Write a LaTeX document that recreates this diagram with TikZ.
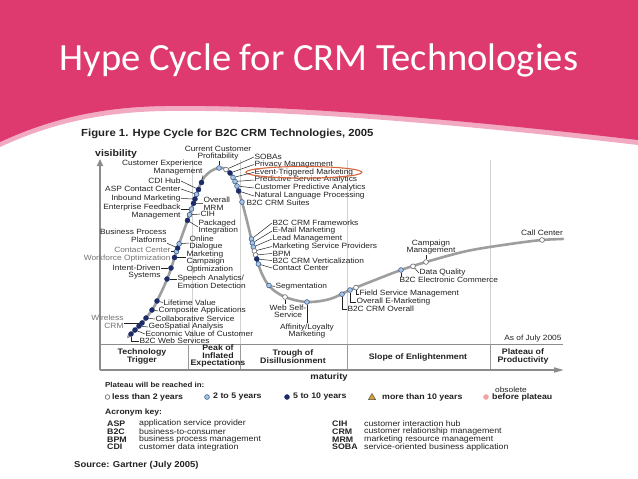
\documentclass[tikz,border=0pt]{standalone}
\usepackage{fontspec}
\setmainfont{Liberation Sans}[FakeStretch=1.1]
\newfontfamily\titlefont{Carlito}
\usetikzlibrary{arrows.meta,shapes.geometric}

\definecolor{banner}{HTML}{DE3A70}
\definecolor{bannerlt}{HTML}{F2AAC3}
\definecolor{navy}{HTML}{1C2C6B}
\definecolor{ltblue}{HTML}{A9C6E4}
\definecolor{dotedge}{HTML}{3C5C8C}
\definecolor{txt}{HTML}{222222}
\definecolor{ring}{HTML}{D8663C}
\definecolor{tri}{HTML}{D9A22E}
\definecolor{obs}{HTML}{F0A3A3}

\begin{document}
\begin{tikzpicture}[x=1pt,y=-1pt,
  lbl/.style={inner sep=0.3pt,text=txt,font=\fontsize{7.6}{7.8}\selectfont},
  gry/.style={lbl,text=black!55},
  phase/.style={inner sep=0pt,text=txt,align=center,font=\bfseries\fontsize{8}{7.2}\selectfont},
  leg/.style={inner sep=0pt,text=txt,anchor=west,font=\bfseries\fontsize{8}{9}\selectfont},
  acr/.style={inner sep=0pt,text=txt,anchor=west,font=\bfseries\fontsize{8}{9}\selectfont},
  acrtxt/.style={inner sep=0pt,text=txt,anchor=west,font=\fontsize{8}{9}\selectfont},
  leader/.style={draw=txt,line width=0.5pt},
  techdot/.style={circle,inner sep=0pt,minimum size=4.8pt,line width=0.6pt},
  navydot/.style={techdot,fill=navy,draw=navy},
  bluedot/.style={techdot,fill=ltblue,draw=dotedge},
  whitedot/.style={techdot,fill=white,draw=black!60},
  gridline/.style={draw=black!18,line width=0.5pt}]
\useasboundingbox (0,0) rectangle (638,479);
\fill[white] (0,0) rectangle (638,479);

% banner
\fill[bannerlt] (0,0) -- (0,147) .. controls (50,124) and (100,112) .. (165,111) .. controls (300,109) and (500,129) .. (638,145) -- (638,0) -- cycle;
\fill[banner] (0,0) -- (0,142) .. controls (50,119) and (100,107) .. (165,106) .. controls (300,104) and (500,124) .. (638,140) -- (638,0) -- cycle;
\node[text=white,inner sep=0pt,anchor=base,font=\titlefont\fontsize{38.5}{40}\selectfont] (title) at (319,70) {Hype Cycle for CRM Technologies};

\node[anchor=west,inner sep=0pt,text=txt,font=\bfseries\fontsize{10.3}{12}\selectfont] (fig) at (81,134) {Figure 1. Hype Cycle for B2C CRM Technologies, 2005};
\node[anchor=west,inner sep=0pt,text=txt,font=\bfseries\fontsize{9.5}{10}\selectfont] (vis) at (95,154) {visibility};

% axes and phase band
\draw[gridline] (192,160) -- (192,344);
\draw[gridline] (240,160) -- (240,344);
\draw[gridline] (347,160) -- (347,344);
\draw[gridline] (490,160) -- (490,344);
\draw[black!45,line width=0.6pt] (100,344) -- (563,344);
\draw[black!40,line width=0.6pt] (188,344) -- (188,370);
\draw[black!40,line width=0.6pt] (240,344) -- (240,370);
\draw[black!40,line width=0.6pt] (347,344) -- (347,370);
\draw[black!40,line width=0.6pt] (490,344) -- (490,370);
\coordinate (orig) at (100,370);
\coordinate (ytop) at (100,159);
\coordinate (xend) at (564,370);
\draw[black!45,line width=1.6pt,-{Triangle[width=6pt,length=7pt]}] (orig) -- (ytop);
\draw[black!45,line width=1.6pt,-{Triangle[width=5pt,length=10pt]}] (orig) -- (xend);

\node[phase] (trig) at (142,356.5) {Technology\\Trigger};
\node[phase] (peak) at (218,356) {Peak of\\Inflated\\Expectations};
\node[phase] (trough) at (293,356.5) {Trough of\\Disillusionment};
\node[phase] (slope) at (418,357) {Slope of Enlightenment};
\node[phase] (plat) at (523,356.5) {Plateau of\\Productivity};
\node[inner sep=0pt,text=txt,font=\bfseries\fontsize{8.6}{10}\selectfont] (mat) at (329,377) {maturity};

% the hype curve
\draw[black!38,line width=2.6pt,line cap=round] plot[smooth,tension=0.55] coordinates {
  (128,337) (142,323) (152,310) (157,301) (168,277) (178,247) (188,219) (197,193)
  (203,179) (211,171) (219,168) (226,169) (232,175) (237,186) (242,202) (248,225)
  (253,246) (257,260) (262,274) (270,287) (285,297) (307,302) (330,299) (350,290)
  (375,280) (401,270) (426,262) (467,251) (510,244) (542,240) (563,239)};

% technologies on the rise
\node[navydot] (bws) at (131,334) {};
\node[navydot] (evc) at (135,330) {};
\node[navydot] (geo) at (139,326) {};
\node[navydot] (wcrm) at (142,323) {};
\node[navydot] (colsv) at (146,318) {};
\node[navydot] (comp) at (152,310) {};
\node[navydot] (life) at (157,301) {};
\node[navydot] (speech) at (167,279) {};
\node[navydot] (intent) at (171,268) {};
\node[navydot] (mco) at (174.5,257.5) {};
\node[bluedot] (ccwo) at (176.5,251.5) {};
\node[navydot] (bpp) at (177.7,248) {};
\node[bluedot] (online) at (179.2,243.8) {};
\node[navydot] (pkg) at (187.5,220.4) {};
\node[bluedot] (cih) at (189.5,214.8) {};
\node[bluedot] (efm) at (191.5,209) {};
\node[navydot] (omrm) at (193.5,203.3) {};
\node[navydot] (inb) at (195,199) {};
\node[bluedot] (asp) at (196.6,194.3) {};
\node[navydot] (cdi) at (198.5,189.5) {};
\node[navydot] (cem) at (201.5,182.5) {};
\node[bluedot] (ccp) at (219,168) {};

\node[lbl,align=right,anchor=east] (cemL) at (203,167.5) {Customer Experience\\Management};
\node[lbl,anchor=east] (cdiL) at (181,181) {CDI Hub};
\node[lbl,anchor=east] (aspL) at (181,189) {ASP Contact Center};
\node[lbl,anchor=east] (inbL) at (181,198.5) {Inbound Marketing};
\node[lbl,align=right,anchor=north east] (efmL) at (181,203.5) {Enterprise Feedback\\Management};
\node[lbl,align=left,anchor=west] (omrmL) at (203,203.5) {Overall\\MRM};
\node[lbl,anchor=west] (cihL) at (200,214) {CIH};
\node[lbl,align=left,anchor=west] (pkgL) at (198,227) {Packaged\\Integration};
\node[lbl,align=right,anchor=east] (bppL) at (167,236) {Business Process\\Platforms};
\node[lbl,align=left,anchor=west] (onlineL) at (189,243) {Online\\Dialogue};
\node[gry,align=right,anchor=east] (ccwoL) at (171,254.5) {Contact Center\\Workforce Optimization};
\node[lbl,align=left,anchor=north west,font=\fontsize{7.6}{7.1}\selectfont] (mcoL) at (186,250.8) {Marketing\\Campaign\\Optimization};
\node[lbl,align=right,anchor=north east] (intentL) at (161,264) {Intent-Driven\\Systems};
\node[lbl,align=left,anchor=north west] (speechL) at (177,274.6) {Speech Analytics/\\Emotion Detection};
\node[lbl,anchor=west] (lifeL) at (163,302.5) {Lifetime Value};
\node[lbl,anchor=west] (compL) at (158,311) {Composite Applications};
\node[lbl,anchor=west] (colsvL) at (155,319) {Collaborative Service};
\node[gry,align=right,anchor=east] (wcrmL) at (124,322) {Wireless\\CRM};
\node[lbl,anchor=west] (geoL) at (148,327) {GeoSpatial Analysis};
\node[lbl,anchor=west] (evcL) at (145,334) {Economic Value of Customer};
\node[lbl,anchor=west] (bwsL) at (139,341) {B2C Web Services};
\node[lbl,align=center,anchor=south] (ccpL) at (218,161) {Current Customer\\Profitability};

\draw[leader] (cemL.south east) -- (cem);
\draw[leader] (cdiL.east) -- (cdi);
\draw[leader] (aspL.east) -- (asp);
\draw[leader] (inbL.east) -- (inb);
\draw[leader] (efmL.east |- efm) -- (efm);
\draw[leader] (omrm) -- (omrmL.west);
\draw[leader] (cih) -- (cihL.west);
\draw[leader] (pkg) -- (pkgL.west);
\draw[leader] (bppL.south east) -- (bpp);
\draw[leader] (online) -- (onlineL.west);
\draw[leader] (ccwoL.east |- ccwo) -- (ccwo);
\draw[leader] (mco) -- (mco -| mcoL.west);
\draw[leader] (intentL.east |- intent) -- (intent);
\draw[leader] (speech) -- (speech -| speechL.west);
\draw[leader] (life) -- (lifeL.west);
\draw[leader] (comp) -- (compL.west);
\draw[leader] (colsv) -- (colsvL.west);
\draw[leader] (wcrm -| wcrmL.east) -- (wcrm);
\draw[leader] (geo) -- (geoL.west);
\draw[leader] (evc) -- (evcL.west);
\draw[leader] (bws) |- (bwsL.west);
\draw[leader] (ccp) -- (ccp |- ccpL.south);

% sliding into the trough
\node[whitedot] (soba) at (226,169.5) {};
\node[navydot] (priv) at (230,173) {};
\node[bluedot] (etm) at (233,177.5) {};
\node[bluedot] (psa) at (235,181.5) {};
\node[bluedot] (cpa) at (237,186) {};
\node[navydot] (nlp) at (238.6,191) {};
\node[bluedot] (suite) at (242,202) {};
\node[bluedot] (frame) at (251.5,239) {};
\node[bluedot] (email) at (252.4,243) {};
\node[bluedot] (leadm) at (253.3,247) {};
\node[whitedot] (msp) at (254.4,251) {};
\node[whitedot] (bpm) at (255.6,255) {};
\node[navydot] (vert) at (256.8,259) {};
\node[bluedot] (ccen) at (258.4,264) {};
\node[bluedot] (seg) at (269,285.5) {};
\node[whitedot] (wss) at (285,297) {};
\node[bluedot] (aff) at (307,302) {};

\node[lbl,anchor=west] (sobaL) at (254,157) {SOBAs};
\node[lbl,anchor=west] (privL) at (254,164.5) {Privacy Management};
\node[lbl,anchor=west] (etmL) at (254,172.3) {Event-Triggered Marketing};
\node[lbl,anchor=west] (psaL) at (254,180) {Predictive Service Analytics};
\node[lbl,anchor=west] (cpaL) at (254,188) {Customer Predictive Analytics};
\node[lbl,anchor=west] (nlpL) at (254,196) {Natural Language Processing};
\node[lbl,anchor=west] (suiteL) at (246,202.5) {B2C CRM Suites};
\node[lbl,anchor=west] (frameL) at (272,223) {B2C CRM Frameworks};
\node[lbl,anchor=west] (emailL) at (272,231) {E-Mail Marketing};
\node[lbl,anchor=west] (leadmL) at (272,239) {Lead Management};
\node[lbl,anchor=west] (mspL) at (272,246.5) {Marketing Service Providers};
\node[lbl,anchor=west] (bpmL) at (272,253.5) {BPM};
\node[lbl,anchor=west] (vertL) at (272,260.5) {B2C CRM Verticalization};
\node[lbl,anchor=west] (ccenL) at (272,268) {Contact Center};
\node[lbl,anchor=west] (segL) at (275,286.5) {Segmentation};
\node[lbl,align=center,anchor=north] (wssL) at (288,304) {Web Self-\\Service};
\node[lbl,align=center,anchor=north] (affL) at (307,323) {Affinity/Loyalty\\Marketing};

\draw[ring,line width=1.1pt] (etmL.center) ellipse [x radius=58, y radius=5.8];

\draw[leader] (soba) -- (sobaL.west);
\draw[leader] (priv) -- (privL.west);
\draw[leader] (etm) -- (etmL.west);
\draw[leader] (psa) -- (psaL.west);
\draw[leader] (cpa) -- (cpaL.west);
\draw[leader] (nlp) -- (nlpL.west);
\draw[leader] (frame) -- (frameL.west);
\draw[leader] (email) -- (emailL.west);
\draw[leader] (leadm) -- (leadmL.west);
\draw[leader] (msp) -- (mspL.west);
\draw[leader] (bpm) -- (bpmL.west);
\draw[leader] (vert) -- (vertL.west);
\draw[leader] (ccen) -- (ccenL.west);
\draw[leader] (seg) -- (segL.west);
\draw[leader] (wss) -- (wss |- wssL.north);
\draw[leader] (aff) -- (affL.north);

% climbing the slope
\node[bluedot] (cov) at (342,294.2) {};
\node[bluedot] (oem) at (350,290) {};
\node[whitedot] (fsm) at (356,287.6) {};
\node[bluedot] (bec) at (401,270) {};
\node[whitedot] (dq) at (413,266.3) {};
\node[whitedot] (campm) at (426,262) {};
\node[whitedot] (call) at (542,240) {};

\node[lbl,anchor=west] (covL) at (347,309) {B2C CRM Overall};
\node[lbl,anchor=west] (oemL) at (356,302) {Overall E-Marketing};
\node[lbl,anchor=west] (fsmL) at (359,294) {Field Service Management};
\node[lbl,anchor=north west] (becL) at (399,276.5) {B2C Electronic Commerce};
\node[lbl,anchor=west] (dqL) at (419,273) {Data Quality};
\node[lbl,align=center,anchor=south] (campmL) at (431,255) {Campaign\\Management};
\node[lbl,anchor=south] (callL) at (542,236.5) {Call Center};
\node[lbl,anchor=east] (asof) at (562,339) {As of July 2005};

\draw[leader] (cov) |- (covL.west);
\draw[leader] (oem) |- (oemL.west);
\draw[leader] (fsm) |- (fsmL.west);
\draw[leader] (bec) -- (bec |- becL.north);
\draw[leader] (dq) -- (dqL.west);
\draw[leader] (campm) -- (campm |- campmL.south);

% legend
\node[inner sep=0pt,anchor=west,text=txt,font=\bfseries\fontsize{7.2}{8}\selectfont] (reach) at (105,385) {Plateau will be reached in:};
\node[whitedot,minimum size=4.6pt] (lg1) at (107.5,397) {};
\node[leg] (lg1L) at (112,397) {less than 2 years};
\node[bluedot] (lg2) at (207,397) {};
\node[leg] (lg2L) at (213,397) {2 to 5 years};
\node[navydot] (lg3) at (287,397) {};
\node[leg] (lg3L) at (293,397) {5 to 10 years};
\node[regular polygon,regular polygon sides=3,inner sep=0pt,minimum size=8pt,fill=tri,draw=black!70,line width=0.5pt] (lg4) at (372,397.5) {};
\node[leg] (lg4L) at (382,397) {more than 10 years};
\node[techdot,fill=obs,draw=obs] (lg5) at (486,397) {};
\node[leg] (lg5L) at (492,397) {before plateau};
\node[inner sep=0pt,anchor=west,text=txt,font=\fontsize{7.6}{8}\selectfont] (obsL) at (495,389.5) {obsolete};

\node[inner sep=0pt,anchor=west,text=txt,font=\bfseries\fontsize{7.8}{8}\selectfont] (akey) at (105,412) {Acronym key:};
\node[acr] (k1) at (107,423.5) {ASP};
\node[acrtxt] (k1d) at (139,423.5) {application service provider};
\node[acr] (k2) at (107,431.5) {B2C};
\node[acrtxt] (k2d) at (139,431.5) {business-to-consumer};
\node[acr] (k3) at (107,439.5) {BPM};
\node[acrtxt] (k3d) at (139,439.5) {business process management};
\node[acr] (k4) at (107,447) {CDI};
\node[acrtxt] (k4d) at (139,447) {customer data integration};
\node[acr] (k5) at (332,423.5) {CIH};
\node[acrtxt] (k5d) at (364,423.5) {customer interaction hub};
\node[acr] (k6) at (332,431.5) {CRM};
\node[acrtxt] (k6d) at (364,431.5) {customer relationship management};
\node[acr] (k7) at (332,439.5) {MRM};
\node[acrtxt] (k7d) at (364,439.5) {marketing resource management};
\node[acr] (k8) at (332,447) {SOBA};
\node[acrtxt] (k8d) at (364,447) {service-oriented business application};

\node[inner sep=0pt,anchor=west,text=txt,font=\bfseries\fontsize{8.6}{10}\selectfont] (src) at (74,465.5) {Source: Gartner (July 2005)};
\end{tikzpicture}
\end{document}
